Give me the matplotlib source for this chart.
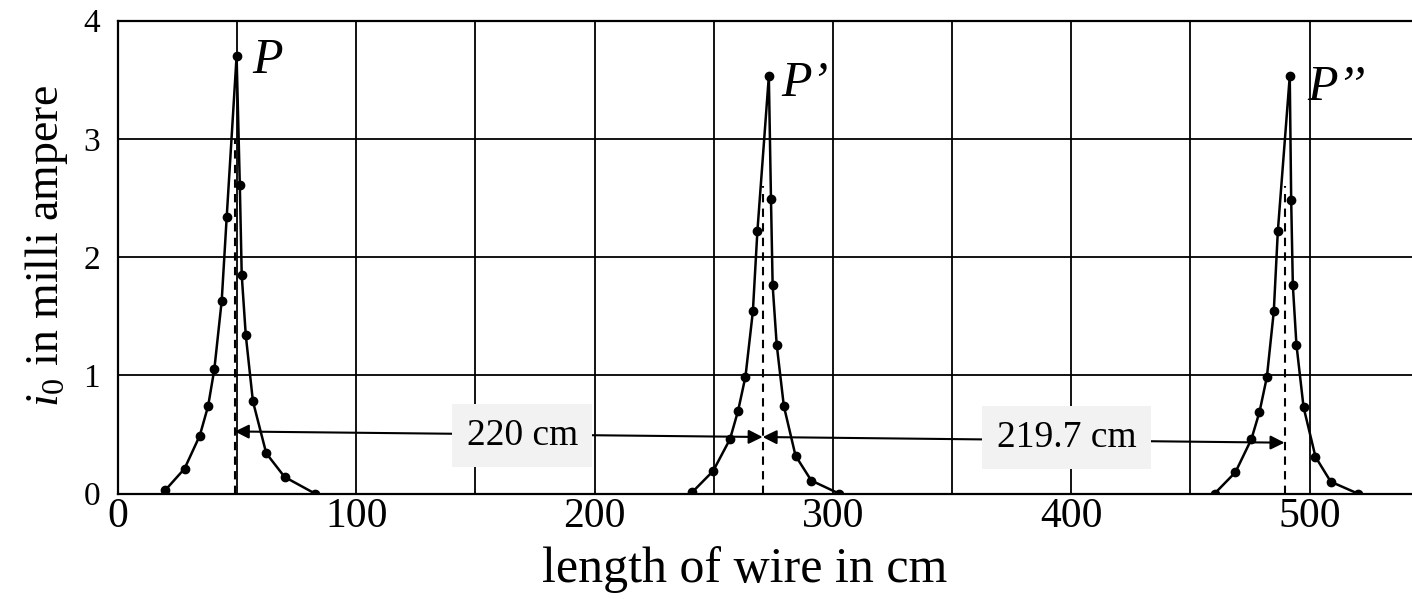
import matplotlib
matplotlib.use("Agg")
import matplotlib.pyplot as plt
import numpy as np

plt.rcParams['font.family'] = ['Liberation Serif', 'DejaVu Serif']
plt.rcParams['mathtext.fontset'] = 'custom'
plt.rcParams['mathtext.rm'] = 'Liberation Serif'
plt.rcParams['mathtext.it'] = 'Liberation Serif:italic'

# resonance peaks (length in cm, current in mA)
x1 = [19.9, 27.9, 34.3, 37.8, 40.4, 43.5, 45.6, 49.75, 51.1, 51.9, 53.6, 56.6, 62.2, 69.9, 82.6]
y1 = [0.03, 0.21, 0.49, 0.74, 1.05, 1.63, 2.34, 3.70, 2.61, 1.85, 1.34, 0.78, 0.34, 0.14, 0.0]

x2 = [240.9, 249.7, 256.8, 260.2, 263.3, 266.4, 268.3, 273.1, 274.0, 274.7, 276.4, 279.4, 284.3, 290.9, 302.5]
y2 = [0.01, 0.19, 0.46, 0.70, 0.99, 1.54, 2.22, 3.53, 2.49, 1.76, 1.26, 0.74, 0.32, 0.11, 0.0]

x3 = [460.2, 468.9, 475.6, 479.0, 482.1, 485.0, 486.7, 491.7, 492.3, 493.0, 494.5, 497.5, 502.5, 508.9, 520.2]
y3 = [0.0, 0.18, 0.46, 0.69, 0.985, 1.54, 2.22, 3.53, 2.48, 1.76, 1.26, 0.73, 0.31, 0.10, 0.0]

peak_names = ['P', 'P’', 'P’’']
label_x = [56.5, 278.5, 499.0]
label_y = [3.66, 3.47, 3.43]

# resonance positions (dashed) and the spacing arrows
res_x = [49.0, 270.5, 489.5]
res_top = [3.0, 2.6, 2.6]
arrow_y = [0.525, 0.478, 0.43]
gap_text = ['220 cm', '219.7 cm']
gap_x = [169.7, 398.0]
gap_y = [0.49, 0.47]

fig = plt.figure(figsize=(14.12, 5.99), dpi=100)
ax = fig.add_axes([0.0836, 0.1761, 0.9164, 0.7893])

for xs, ys in [(x1, y1), (x2, y2), (x3, y3)]:
    ax.plot(xs, ys, '-', color='black', lw=1.8, marker='o', ms=6, zorder=3)

for i in range(3):
    ax.plot([res_x[i], res_x[i]], [0, res_top[i]], '--', color='black', lw=1.5,
            dashes=(4, 3), zorder=3)
    ax.text(label_x[i], label_y[i], peak_names[i], fontsize=36, style='italic',
            ha='left', va='center', zorder=4)

for i in range(2):
    ax.annotate('', xy=(res_x[i + 1], arrow_y[i + 1]), xytext=(res_x[i], arrow_y[i]),
                arrowprops=dict(arrowstyle='<|-|>,head_length=0.7,head_width=0.35',
                                color='black', lw=1.5, shrinkA=0, shrinkB=0,
                                mutation_scale=12),
                zorder=4)
    ax.text(gap_x[i], gap_y[i], gap_text[i], fontsize=27, ha='center', va='center',
            bbox=dict(boxstyle='square,pad=0.38', fc='#f2f2f2', ec='none'), zorder=5)

ax.set_xlim(0, 543)
ax.set_ylim(0, 4)
ax.set_xticks(np.arange(0, 501, 100))
ax.set_xticks(np.arange(50, 543, 100), minor=True)
ax.set_yticks(np.arange(0, 5, 1))
ax.grid(True, which='both', color='black', lw=1.3, zorder=0)
ax.set_axisbelow(True)
ax.tick_params(axis='x', which='both', length=0, labelsize=30, pad=3)
ax.tick_params(axis='y', which='both', length=0, labelsize=24, pad=13)

for s in ['left', 'bottom', 'top']:
    ax.spines[s].set_linewidth(1.6)
ax.spines['right'].set_visible(False)

ax.set_xlabel('length of wire in cm', fontsize=36)
ax.xaxis.set_label_coords(0.4845, -0.187)
ax.xaxis.label.set_verticalalignment('baseline')
ax.set_ylabel(r'$i_0$ in milli ampere', fontsize=33)
ax.yaxis.set_label_coords(-0.055, 0.524)
ax.yaxis.label.set_verticalalignment('center')

plt.savefig('out.png', dpi=100)
